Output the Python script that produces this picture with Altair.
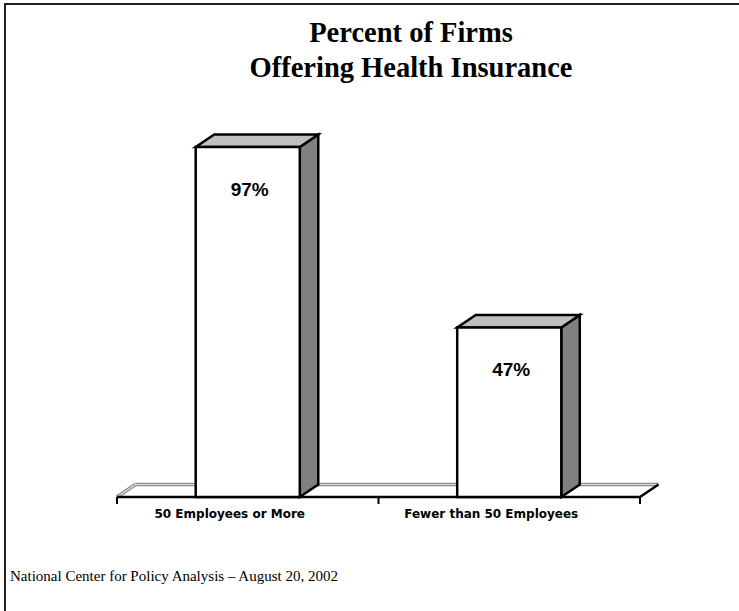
import altair as alt
import pandas as pd

# ---- data ----
categories = ["50 Employees or More", "Fewer than 50 Employees"]
values = [97, 47]
value_labels = ["97%", "47%"]
title_lines = ["Percent of Firms", "Offering Health Insurance"]
footer_text = "National Center for Policy Analysis \u2013 August 20, 2002"

# ---- layout / style constants ----
X_DOMAIN = [-0.4474, 2.3786]
Y_DOMAIN = [-31.6, 137.75]
HALF_W = 0.199      # half bar width in category units
DX = 0.0707         # 3D depth, x (category units)
DY = 3.46           # 3D depth, y (value units)
n = len(categories)

xs = alt.Scale(domain=X_DOMAIN, nice=False, zero=False)
ys = alt.Scale(domain=Y_DOMAIN, nice=False, zero=False)

front = pd.DataFrame({
    "cat": categories,
    "xc": [i + 0.5 for i in range(n)],
    "x1": [i + 0.5 - HALF_W for i in range(n)],
    "x2": [i + 0.5 + HALF_W for i in range(n)],
    "v": values,
    "base": [0] * n,
    "label": value_labels,
})

side_rows, top_rows = [], []
for i, (c, v) in enumerate(zip(categories, values)):
    r = i + 0.5 + HALF_W
    l = i + 0.5 - HALF_W
    side_rows += [{"cat": c, "x": r, "lo": 0, "hi": v},
                  {"cat": c, "x": r + DX, "lo": DY, "hi": v + DY}]
    top_rows += [{"cat": c, "y": v, "xa": l, "xb": r},
                 {"cat": c, "y": v + DY, "xa": l + DX, "xb": r + DX}]
side = pd.DataFrame(side_rows)
top = pd.DataFrame(top_rows)

floor_gray = pd.DataFrame([
    {"x": 0, "y": 0, "x2": DX, "y2": DY},
    {"x": DX, "y": DY, "x2": n + DX, "y2": DY},
])
floor_black = pd.DataFrame([
    {"x": 0, "y": 0, "x2": n, "y2": 0},
    {"x": n, "y": 0, "x2": n + DX, "y2": DY},
])
ticks = pd.DataFrame({"x": list(range(n + 1)), "y": [0] * (n + 1)})

one = alt.Data(values=[{"k": 1}])

def seg(df, color, width):
    return alt.Chart(df).mark_rule(color=color, strokeWidth=width, strokeCap="butt").encode(
        x=alt.X("x:Q", scale=xs, axis=None),
        y=alt.Y("y:Q", scale=ys, axis=None),
        x2="x2:Q", y2="y2:Q",
    )

gray_outer = seg(floor_gray, "#8a8a8a", 3.5)
gray_inner = seg(floor_gray, "#e4e4e4", 1.2)
black_floor = seg(floor_black, "black", 2.5)

tick_layer = alt.Chart(ticks).mark_rule(color="black", strokeWidth=2).encode(
    x=alt.X("x:Q", scale=xs, axis=None),
    y=alt.Y("y:Q", scale=ys, axis=None),
    y2=alt.value(504),
)

side_layer = alt.Chart(side).mark_area(
    orient="vertical", fill="#808080", stroke="black", strokeWidth=2.5, strokeJoin="miter"
).encode(
    x=alt.X("x:Q", scale=xs, axis=None),
    y=alt.Y("hi:Q", scale=ys, axis=None),
    y2="lo:Q",
    detail="cat:N",
)

top_layer = alt.Chart(top).mark_area(
    orient="horizontal", fill="#c0c0c0", stroke="black", strokeWidth=2.5, strokeJoin="miter"
).encode(
    y=alt.Y("y:Q", scale=ys, axis=None),
    x=alt.X("xa:Q", scale=xs, axis=None),
    x2="xb:Q",
    detail="cat:N",
)

front_layer = alt.Chart(front).mark_rect(
    fill="white", stroke="black", strokeWidth=2.5, strokeJoin="miter"
).encode(
    x=alt.X("x1:Q", scale=xs, axis=None),
    x2="x2:Q",
    y=alt.Y("v:Q", scale=ys, axis=None),
    y2="base:Q",
)

pct_layer = alt.Chart(front).mark_text(
    font="Liberation Sans", fontWeight="bold", fontSize=19, color="black",
    baseline="middle", dy=43, dx=2,
).encode(
    x=alt.X("xc:Q", scale=xs, axis=None),
    y=alt.Y("v:Q", scale=ys, axis=None),
    text="label:N",
)

cat_layer = alt.Chart(front).mark_text(
    font="DejaVu Sans", fontWeight="bold", fontSize=12, color="black",
    baseline="middle", dx=-18,
).encode(
    x=alt.X("xc:Q", scale=xs, axis=None),
    y=alt.value(514),
    text="cat:N",
)

title_layer = alt.Chart(one).mark_text(
    text="\n".join(title_lines), lineBreak="\n", lineHeight=35,
    font="Liberation Serif", fontWeight="bold", fontSize=28.5, color="black",
    align="center", baseline="alphabetic",
).encode(x=alt.value(411), y=alt.value(41.5))

footer_layer = alt.Chart(one).mark_text(
    text=footer_text, font="Liberation Serif", fontSize=15, color="black",
    align="left", baseline="alphabetic",
).encode(x=alt.value(10), y=alt.value(581))

border_v = alt.Chart(one).mark_rule(color="#222222", strokeWidth=2).encode(
    x=alt.value(5), y=alt.value(3), y2=alt.value(611)
)
border_h = alt.Chart(one).mark_rule(color="#222222", strokeWidth=2).encode(
    x=alt.value(4), x2=alt.value(739), y=alt.value(4)
)

chart = alt.layer(
    gray_outer, gray_inner, black_floor, tick_layer,
    side_layer, top_layer, front_layer,
    pct_layer, cat_layer, title_layer, footer_layer,
    border_v, border_h,
).properties(
    width=739, height=611, padding=0, autosize="none", background="white"
).configure_view(stroke=None)

chart.save("out.html", embed_options={"renderer": "svg", "actions": False})
